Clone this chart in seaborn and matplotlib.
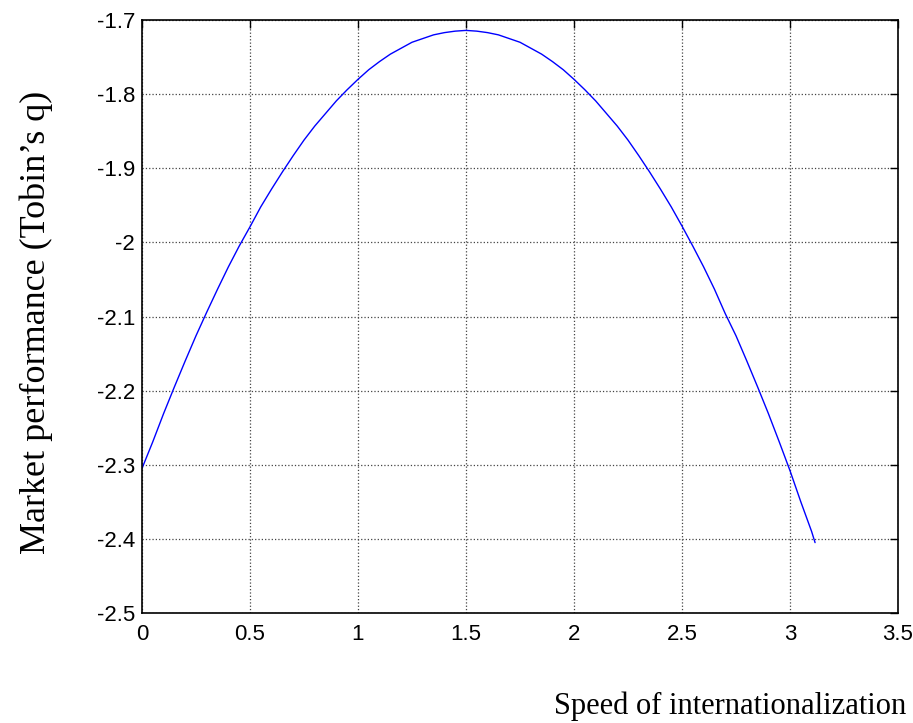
"""Market performance vs speed of internationalization (MATLAB-style line plot)."""
import matplotlib
matplotlib.use("Agg")
import matplotlib.pyplot as plt
import matplotlib.ticker as mticker
import pandas as pd
import seaborn as sns

# values
speed = [0.0, 0.05, 0.1, 0.15, 0.2, 0.25, 0.3, 0.35, 0.4, 0.45, 0.5, 0.55,
         0.6, 0.65, 0.7, 0.75, 0.8, 0.85, 0.9, 0.95, 1.0, 1.05, 1.1, 1.15,
         1.2, 1.25, 1.3, 1.35, 1.4, 1.45, 1.5, 1.55, 1.6, 1.65, 1.7, 1.75,
         1.8, 1.85, 1.9, 1.95, 2.0, 2.05, 2.1, 2.15, 2.2, 2.25, 2.3, 2.35,
         2.4, 2.45, 2.5, 2.55, 2.6, 2.65, 2.7, 2.75, 2.8, 2.85, 2.9, 2.95,
         3.0, 3.05, 3.1, 3.116]
tobins_q = [-2.305, -2.269, -2.231, -2.195, -2.160, -2.126, -2.094, -2.063,
            -2.033, -2.005, -1.979, -1.952, -1.928, -1.905, -1.883, -1.862,
            -1.843, -1.826, -1.809, -1.794, -1.780, -1.767, -1.756, -1.746,
            -1.738, -1.730, -1.725, -1.720, -1.717, -1.715, -1.714, -1.715,
            -1.717, -1.720, -1.725, -1.730, -1.738, -1.746, -1.756, -1.767,
            -1.780, -1.794, -1.809, -1.826, -1.843, -1.862, -1.883, -1.905,
            -1.928, -1.952, -1.978, -2.005, -2.033, -2.063, -2.096, -2.126,
            -2.160, -2.195, -2.231, -2.269, -2.308, -2.350, -2.390, -2.405]
x_ticks = [0, 0.5, 1, 1.5, 2, 2.5, 3, 3.5]
y_ticks = [-2.5, -2.4, -2.3, -2.2, -2.1, -2.0, -1.9, -1.8, -1.7]

df = pd.DataFrame({"speed": speed, "q": tobins_q})

sns.set_theme(style="white")
plt.rcParams["font.family"] = ["Liberation Sans", "DejaVu Sans"]
plt.rcParams["axes.unicode_minus"] = False

fig = plt.figure(figsize=(9.13, 7.23), dpi=100)
ax = fig.add_axes([0.1555, 0.1521, 0.8281, 0.8202])

sns.lineplot(data=df, x="speed", y="q", color="#0000ff", linewidth=1.0, ax=ax)

ax.set_xlim(0, 3.5)
ax.set_ylim(-2.5, -1.7)
ax.set_xticks(x_ticks)
ax.set_yticks(y_ticks)
fmt = mticker.FuncFormatter(lambda v, _: f"{v:g}")
ax.xaxis.set_major_formatter(fmt)
ax.yaxis.set_major_formatter(fmt)

ax.grid(True, color="#444444", linestyle=":", linewidth=0.9)
for s in ax.spines.values():
    s.set_color("black")
    s.set_linewidth(1.2)
ax.tick_params(direction="in", length=6, width=1, color="black",
               top=True, right=True, labelsize=16, labelcolor="black")
ax.tick_params(axis="x", pad=8)
ax.tick_params(axis="y", pad=5)

serif = ["Liberation Serif", "DejaVu Serif"]
ax.set_xlabel("Speed of internationalization", fontsize=22, family=serif,
              color="black")
ax.set_ylabel("Market performance (Tobin’s q)", fontsize=26, family=serif,
              color="black")
ax.xaxis.set_label_coords(0.778, -0.132)
ax.yaxis.set_label_coords(-0.118, 0.49)

fig.savefig("out.png", dpi=100)
